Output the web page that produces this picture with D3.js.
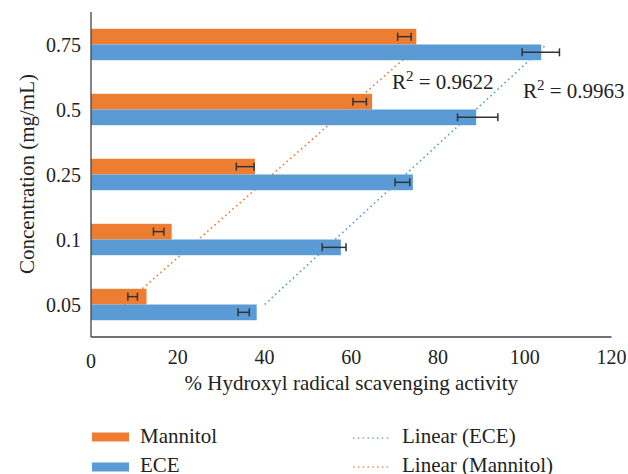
<!DOCTYPE html>
<html><head><meta charset="utf-8">
<script src="https://cdn.jsdelivr.net/npm/d3@7"></script>
<style>body{margin:0;background:#fff}svg{display:block}text{font-family:"Liberation Serif","DejaVu Serif",serif;fill:#222}</style>
</head><body><svg id="c" width="628" height="474"></svg>
<script>
const categories = ["0.05","0.1","0.25","0.5","0.75"];
const mannitol = [12.8, 18.6, 37.8, 64.8, 75.0];
const ece = [38.2, 57.6, 74.2, 88.8, 103.8];
const mannitolErrLow = [8.5, 14.4, 33.5, 60.4, 70.7];
const mannitolErrHigh = [10.7, 16.8, 37.6, 63.5, 73.8];
const eceErrLow = [33.9, 53.3, 70.1, 84.5, 99.4];
const eceErrHigh = [36.5, 58.8, 73.5, 93.8, 108.0];
const xTicks = [0, 20, 40, 60, 80, 100, 120];
const r2Labels = {ECE: "0.9963", Mannitol: "0.9622"};
const colors = {Mannitol: "#ED7D31", ECE: "#5B9BD5"};

const svg = d3.select("#c");
const L = 91, R = 611.5, T = 12, B = 337;
const x = d3.scaleLinear().domain([0,120]).range([L,R]);
const y = d3.scaleBand().domain(categories.slice().reverse()).range([T,B]);
const groupH = 31.4;
const ys = d3.scaleBand().domain(["Mannitol","ECE"]).range([0,groupH]);
const series = [
  {name:"Mannitol", vals:mannitol, lo:mannitolErrLow, hi:mannitolErrHigh},
  {name:"ECE", vals:ece, lo:eceErrLow, hi:eceErrHigh}
];
const cy = c => y(c) + y.bandwidth()/2;

// trendlines (behind bars)
function fit(v){
  const xs=v.map((_,i)=>i+1);
  const mx=d3.mean(xs), my=d3.mean(v);
  const s=d3.sum(xs.map((xi,i)=>(xi-mx)*(v[i]-my)))/d3.sum(xs.map(xi=>(xi-mx)**2));
  return i => my + s*(i+1-mx);
}
const line = d3.line().x(d=>x(d.v)).y(d=>cy(d.c));
series.forEach(s=>{
  const f = fit(s.vals);
  const pts = [{c:categories[0], v:f(0)}, {c:categories[4], v:f(4)}];
  svg.append("path").attr("d", line(pts)).attr("fill","none")
    .attr("stroke", colors[s.name]).attr("stroke-width",1.6)
    .attr("stroke-dasharray","1.6,3.2");
});

// bars
series.forEach(s=>{
  svg.append("g").selectAll("rect").data(categories).join("rect")
    .attr("x", x(0)).attr("y", c=>cy(c)-groupH/2+ys(s.name))
    .attr("width", (c,i)=>x(s.vals[i])-x(0)).attr("height", ys.bandwidth())
    .attr("fill", colors[s.name]);
});
// error bars
series.forEach(s=>{
  const g = svg.append("g").attr("stroke","#333").attr("stroke-width",1.5);
  categories.forEach((c,i)=>{
    const yy = cy(c)-groupH/2+ys(s.name)+ys.bandwidth()/2;
    g.append("line").attr("x1",x(s.lo[i])).attr("x2",x(s.hi[i])).attr("y1",yy).attr("y2",yy);
    [s.lo[i], s.hi[i]].forEach(v=>g.append("line").attr("x1",x(v)).attr("x2",x(v)).attr("y1",yy-4).attr("y2",yy+4));
  });
});

// axes
svg.append("line").attr("x1",L).attr("x2",L).attr("y1",T).attr("y2",B).attr("stroke","#444").attr("stroke-width",1.3);
svg.append("line").attr("x1",L).attr("x2",R).attr("y1",B).attr("y2",B).attr("stroke","#444").attr("stroke-width",1.3);
svg.append("g").selectAll("text").data(xTicks).join("text")
  .attr("x", d=>x(d)).attr("y", d=>d===0?368:364).attr("text-anchor","middle")
  .attr("font-size",20).text(d=>d);
svg.append("g").selectAll("text").data(categories).join("text")
  .attr("x", 81).attr("y", c=>cy(c)).attr("dy","0.35em").attr("text-anchor","end")
  .attr("font-size",20).text(c=>c);
svg.append("text").attr("x",(L+R)/2).attr("y",390).attr("text-anchor","middle").attr("font-size",21)
  .text("% Hydroxyl radical scavenging activity");
svg.append("text").attr("transform","translate(27,174) rotate(-90)").attr("dy","0.35em")
  .attr("text-anchor","middle").attr("font-size",21).text("Concentration (mg/mL)");

// R2 labels
function r2(xp, yp, val){
  const t = svg.append("text").attr("x",xp).attr("y",yp).attr("font-size",21);
  t.append("tspan").text("R");
  t.append("tspan").attr("dy",-8).attr("font-size",15).text("2");
  t.append("tspan").attr("dy",8).text(" = "+val);
}
r2(392, 89, r2Labels.Mannitol);
r2(523, 98, r2Labels.ECE);

// legend
const leg = [
  {type:"rect", name:"Mannitol", label:"Mannitol", x:92, y:437},
  {type:"rect", name:"ECE", label:"ECE", x:92, y:467},
  {type:"line", name:"ECE", label:"Linear (ECE)", x:353, y:438},
  {type:"line", name:"Mannitol", label:"Linear (Mannitol)", x:353, y:467}
];
leg.forEach(d=>{
  if(d.type==="rect") svg.append("rect").attr("x",d.x).attr("y",d.y-4.5).attr("width",37).attr("height",9).attr("fill",colors[d.name]);
  else svg.append("line").attr("x1",d.x).attr("x2",d.x+37).attr("y1",d.y).attr("y2",d.y)
    .attr("stroke",colors[d.name]).attr("stroke-width",1.6).attr("stroke-dasharray","1.6,3.2").attr("opacity",0.8);
  svg.append("text").attr("x", d.type==="rect"?140:402).attr("y", d.y<450?443:472).attr("font-size",21).text(d.label);
});
</script></body></html>
